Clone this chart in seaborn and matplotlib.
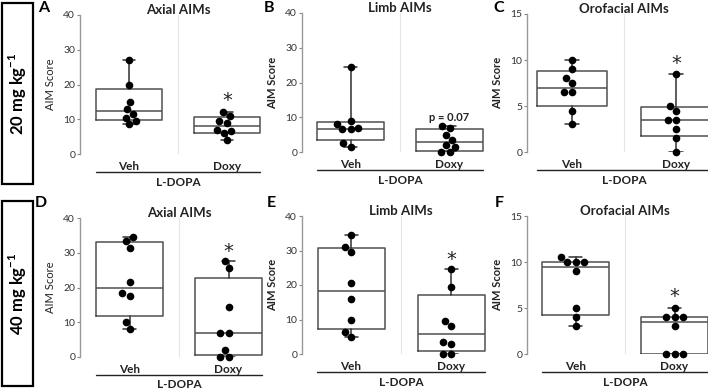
import matplotlib.pyplot as plt
import matplotlib.transforms as mtrans
import numpy as np
import pandas as pd
import seaborn as sns
from matplotlib.patches import Rectangle

GROUPS = ["Veh", "Doxy"]

# AIM scores, 20 mg/kg doxycycline
axial_20_veh = [27, 20, 15, 13, 11.5, 10.5, 9.5, 8.5]
axial_20_doxy = [12, 11, 9.5, 9, 7, 6.5, 6, 4]
limb_20_veh = [24.5, 9, 8, 7, 6.5, 6.5, 2.5, 1.5]
limb_20_doxy = [7.5, 7, 5, 3.5, 2, 1.5, 0, 0]
oro_20_veh = [10, 9, 8, 7.5, 6.5, 6.5, 4.5, 3]
oro_20_doxy = [8.5, 5, 4.5, 3.5, 3.5, 2.5, 1.5, 0]

# AIM scores, 40 mg/kg doxycycline
axial_40_veh = [34.5, 33.5, 31.5, 21.5, 18.5, 17.5, 10, 8]
axial_40_doxy = [27.5, 25.5, 14.5, 7, 7, 2, 0, 0]
limb_40_veh = [34.5, 31, 29.5, 20.5, 16, 10, 6.5, 5]
limb_40_doxy = [24.5, 19.5, 9.5, 8, 3.5, 3, 0, 0]
oro_40_veh = [10.5, 10, 10, 10, 9, 5, 4, 3]
oro_40_doxy = [5, 4, 4, 4, 3, 0, 0, 0]

PANEL_DATA = [
    (axial_20_veh, axial_20_doxy), (limb_20_veh, limb_20_doxy), (oro_20_veh, oro_20_doxy),
    (axial_40_veh, axial_40_doxy), (limb_40_veh, limb_40_doxy), (oro_40_veh, oro_40_doxy),
]
TITLES = ["Axial AIMs", "Limb AIMs", "Orofacial AIMs"] * 2
LETTERS = ["A", "B", "C", "D", "E", "F"]
MARKS = ["*", "p = 0.07", "*", "*", "*", "*"]
MARK_Y = [15.5, 10.0, 9.6, 30.3, 27.5, 6.2]
YMAX = [40, 40, 15, 40, 40, 15]
YTICKS_40 = [0, 10, 20, 30, 40]
YTICKS_15 = [0, 5, 10, 15]
DOSE_LABELS = ["20 mg kg$^{\\mathbf{-1}}$", "40 mg kg$^{\\mathbf{-1}}$"]

W, H = 708, 389
# pixel layout: left, category width, top, bottom, spine x
LAYOUT = [
    (80, 98, 15, 154, 80), (301, 99, 13, 152, 302), (520, 104, 14, 152, 527),
    (80, 99, 218, 357, 80), (301, 100, 216, 354, 302), (526, 99, 216, 354, 527),
]
LETTER_POS = [(44, 8), (269, 8), (499, 8), (41, 203), (271, 203), (499, 203)]
BOLD_YLABEL = [False, True, True, False, True, True]


def box_stats(vals):
    v = np.asarray(vals, float)
    q1, med, q3 = np.percentile(v, [25, 50, 75], method="weibull")
    return dict(med=med, q1=q1, q3=q3, whislo=v.min(), whishi=v.max(), fliers=[])


sns.set_theme(style="white")
plt.rcParams["font.family"] = ["Lato", "DejaVu Sans"]
plt.rcParams["mathtext.fontset"] = "custom"
plt.rcParams["mathtext.rm"] = "Lato"
plt.rcParams["mathtext.bf"] = "Lato:bold"

fig = plt.figure(figsize=(W / 100, H / 100), dpi=100)

for i in range(6):
    left, cw, top, bottom, spx = LAYOUT[i]
    h = bottom - top
    ax = fig.add_axes([left / W, 1 - bottom / H, 2 * cw / W, h / H])
    veh, doxy = PANEL_DATA[i]
    df = pd.DataFrame({"group": ["Veh"] * len(veh) + ["Doxy"] * len(doxy),
                       "score": veh + doxy})

    ax.axvline(0.5, color="#e6e6e6", lw=0.8, zorder=0)
    ax.bxp([box_stats(veh), box_stats(doxy)], positions=[0, 1], widths=0.67,
           capwidths=0.13, showfliers=False, manage_ticks=False,
           boxprops=dict(color="#505050", lw=1.1),
           medianprops=dict(color="#505050", lw=1.1),
           whiskerprops=dict(color="#303030", lw=1.1),
           capprops=dict(color="#303030", lw=1.1))
    sns.swarmplot(data=df, x="group", y="score", order=GROUPS, color="black",
                  size=5.5, ax=ax, zorder=3)
    for c in ax.collections:
        c.set_clip_on(False)

    ax.set_xlim(-0.5, 1.5)
    ax.set_ylim(0, YMAX[i])
    ax.set_yticks(YTICKS_40 if YMAX[i] == 40 else YTICKS_15)
    ax.set_xticks([0, 1])
    ax.set_xticklabels(GROUPS, fontsize=8.5, fontweight="bold", color="#222222")
    for lab in ax.get_yticklabels():
        lab.set_fontweight("bold")
    ax.tick_params(axis="x", length=0, pad=5)
    ax.tick_params(axis="y", left=True, length=2, width=0.8, color="#888888",
                   pad=1.5, labelsize=7.5, labelcolor="#333333")
    ax.set_xlabel("")
    ax.set_ylabel("AIM Score", fontsize=8, color="#222222",
                  fontweight="bold" if BOLD_YLABEL[i] else "normal", labelpad=5)
    for s in ["top", "right", "bottom"]:
        ax.spines[s].set_visible(False)
    ax.spines["left"].set_color("#999999")
    ax.spines["left"].set_linewidth(1)
    ax.spines["left"].set_position(("axes", (spx - left) / (2 * cw)))

    trans = mtrans.blended_transform_factory(ax.transData, ax.transAxes)
    ax.plot([-0.34, 1.34], [-18 / h, -18 / h], color="#222222", lw=1,
            transform=trans, clip_on=False)
    ax.text(0.5, -28 / h, "L-DOPA", transform=trans, ha="center", va="center",
            fontsize=8.5, fontweight="bold", color="#222222")
    ax.text(0.5, 1 + 5 / h, TITLES[i], transform=ax.transAxes, ha="center",
            va="center", fontsize=9.5, fontweight="bold", color="#222222")
    if MARKS[i] == "*":
        ax.text(1, MARK_Y[i], "*", ha="center", va="center", fontsize=14,
                family="DejaVu Sans", color="#222222")
    else:
        ax.text(1, MARK_Y[i], MARKS[i], ha="center", va="center", fontsize=8,
                fontweight="bold", color="#222222")

    lx, ly = LETTER_POS[i]
    fig.text(lx / W, 1 - ly / H, LETTERS[i], ha="center", va="center",
             fontsize=11.5, fontweight="bold", color="black")

# dose boxes on the left
for (y0, y1), lab in zip([(3, 184), (201, 386)], DOSE_LABELS):
    fig.patches.append(Rectangle((2 / W, 1 - y1 / H), 31 / W, (y1 - y0) / H,
                                 transform=fig.transFigure, fill=False,
                                 edgecolor="black", lw=1.6))
    fig.text(18 / W, 1 - (y0 + y1) / 2 / H, lab, rotation=90, ha="center",
             va="center", fontsize=12, fontweight="bold", color="black")

fig.savefig("out.png", dpi=100)
